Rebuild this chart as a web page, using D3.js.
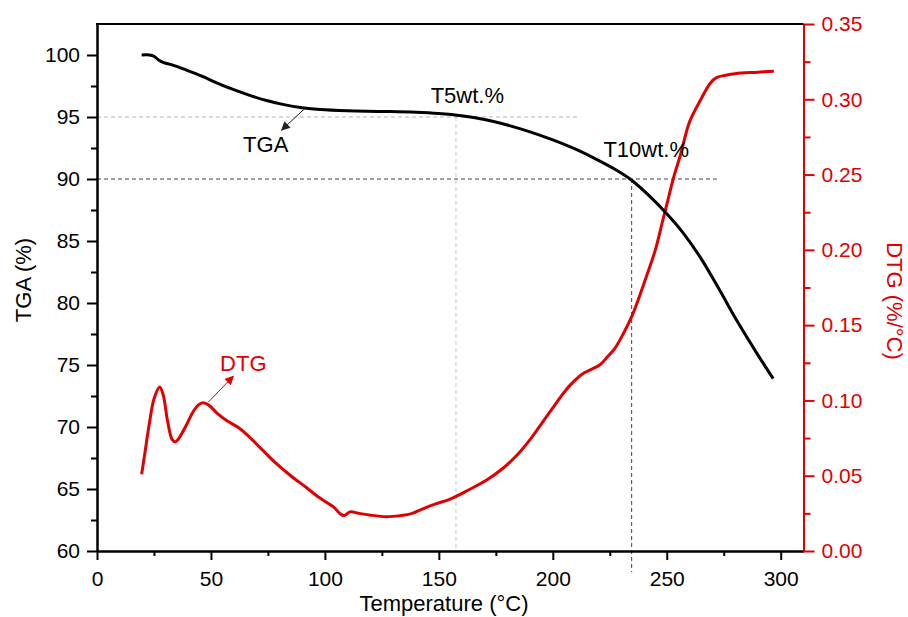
<!DOCTYPE html>
<html>
<head>
<meta charset="utf-8">
<script src="https://cdn.jsdelivr.net/npm/d3@7"></script>
<style>
  html, body { margin: 0; padding: 0; background: #fff; }
  svg { display: block; }
  text { font-family: "Liberation Sans", Arial, sans-serif; }
</style>
</head>
<body>
<svg id="chart" width="908" height="617"></svg>
<script>
// Thermogravimetric curve (TGA, % mass) against temperature (°C)
const tgaTemp  = [19.6, 23, 25, 27, 29, 33, 39, 46, 52, 60, 67, 74, 82, 90, 98, 110, 124, 140, 150, 160, 170, 180, 190, 200, 210, 220, 228, 234.6, 242, 250, 257, 265, 273, 281, 289, 296.7];
const tgaValue = [100, 100, 99.9, 99.6, 99.4, 99.2, 98.8, 98.3, 97.8, 97.2, 96.75, 96.35, 96.0, 95.75, 95.6, 95.5, 95.45, 95.38, 95.28, 95.1, 94.8, 94.35, 93.8, 93.15, 92.4, 91.5, 90.7, 89.9, 88.7, 87.2, 85.7, 83.6, 81.1, 78.5, 76.1, 73.9];

// Derivative curve (DTG, %/°C) against temperature (°C)
const dtgTemp  = [19.6, 21, 23, 25, 27.5, 29, 31, 33, 34.5, 36, 39, 42, 44.5, 46.5, 49, 53, 57, 62, 66, 72, 78, 85, 92, 97, 101, 104, 106.5, 108.5, 111, 115, 120, 127, 133, 138, 143, 148, 155, 163, 171, 178, 184, 190, 195, 200, 204, 207.5, 211, 214, 218, 221, 224, 227, 231, 234.6, 238, 241, 245, 248, 250, 253, 256, 260, 265, 269, 272, 276, 280, 290, 297];
const dtgValue = [0.051, 0.065, 0.085, 0.101, 0.109, 0.104, 0.086, 0.074, 0.0725, 0.075, 0.083, 0.092, 0.097, 0.0985, 0.097, 0.091, 0.0865, 0.082, 0.077, 0.068, 0.059, 0.050, 0.042, 0.036, 0.032, 0.029, 0.025, 0.0235, 0.026, 0.025, 0.0238, 0.0228, 0.0235, 0.0248, 0.028, 0.031, 0.0345, 0.0405, 0.0471, 0.0548, 0.0632, 0.074, 0.0845, 0.095, 0.1035, 0.110, 0.1152, 0.1185, 0.1215, 0.124, 0.129, 0.134, 0.1445, 0.1556, 0.169, 0.182, 0.200, 0.218, 0.230, 0.248, 0.263, 0.285, 0.300, 0.3105, 0.3145, 0.316, 0.317, 0.318, 0.3187];

// Axis ticks
const xTicks      = [0, 50, 100, 150, 200, 250, 300];
const xMinorTicks = [25, 75, 125, 175, 225, 275];
const tgaTicks      = [60, 65, 70, 75, 80, 85, 90, 95, 100];
const tgaMinorTicks = [62.5, 67.5, 72.5, 77.5, 82.5, 87.5, 92.5, 97.5];
const dtgTicks      = [0, 0.05, 0.10, 0.15, 0.20, 0.25, 0.30, 0.35];
const dtgMinorTicks = [0.025, 0.075, 0.125, 0.175, 0.225, 0.275, 0.325];

// Weight-loss markers: temperature at 5 wt.% and 10 wt.% loss
const lossLevels = [95, 90];
const lossTemps  = [157.5, 234.6];
const lossLineEnds = [212, 272];

const RED = "#e10000";
const svg = d3.select("#chart");
const plotLeft = 97, plotRight = 803.5, plotTop = 24, plotBottom = 551;

const x  = d3.scaleLinear().domain([0, 310]).range([plotLeft, plotRight]);
const yL = d3.scaleLinear().domain([60, 102.5]).range([plotBottom, plotTop]);
const yR = d3.scaleLinear().domain([0, 0.35]).range([plotBottom, plotTop]);

const defs = svg.append("defs");
function arrowMarker(id, color) {
  defs.append("marker")
    .attr("id", id)
    .attr("viewBox", "0 0 10 10")
    .attr("refX", 9).attr("refY", 5)
    .attr("markerWidth", 11).attr("markerHeight", 9)
    .attr("markerUnits", "userSpaceOnUse")
    .attr("orient", "auto")
    .append("path")
    .attr("d", "M0,0 L10,5 L0,10 Z")
    .attr("fill", color);
}
arrowMarker("arrBlack", "#222");
arrowMarker("arrRed", RED);

// Reference lines for T5wt.% (light) and T10wt.% (dark)
const g = svg.append("g");
g.append("line")
  .attr("x1", x(0)).attr("x2", x(lossLineEnds[0]))
  .attr("y1", yL(lossLevels[0])).attr("y2", yL(lossLevels[0]))
  .attr("stroke", "#b5b5b5").attr("stroke-width", 1).attr("stroke-dasharray", "4,3");
g.append("line")
  .attr("x1", x(lossTemps[0])).attr("x2", x(lossTemps[0]))
  .attr("y1", yL(lossLevels[0])).attr("y2", yL(60))
  .attr("stroke", "#c4c4c4").attr("stroke-width", 1).attr("stroke-dasharray", "4,3");
g.append("line")
  .attr("x1", x(0)).attr("x2", x(lossLineEnds[1]))
  .attr("y1", yL(lossLevels[1])).attr("y2", yL(lossLevels[1]))
  .attr("stroke", "#444").attr("stroke-width", 1).attr("stroke-dasharray", "4,3");
g.append("line")
  .attr("x1", x(lossTemps[1])).attr("x2", x(lossTemps[1]))
  .attr("y1", yL(lossLevels[1])).attr("y2", yL(58.3))
  .attr("stroke", "#444").attr("stroke-width", 1).attr("stroke-dasharray", "4,3");

// Curves
const tgaData = tgaTemp.map((t, i) => [t, tgaValue[i]]);
const dtgData = dtgTemp.map((t, i) => [t, dtgValue[i]]);
const smooth = d3.curveCatmullRom.alpha(0.5);

svg.append("path")
  .datum(dtgData)
  .attr("fill", "none").attr("stroke", RED).attr("stroke-width", 3)
  .attr("stroke-linejoin", "round")
  .attr("d", d3.line().x(d => x(d[0])).y(d => yR(d[1])).curve(smooth));

svg.append("path")
  .datum(tgaData)
  .attr("fill", "none").attr("stroke", "#000").attr("stroke-width", 3)
  .attr("stroke-linejoin", "round")
  .attr("d", d3.line().x(d => x(d[0])).y(d => yL(d[1])).curve(smooth));

// Axes
const fontSize = "22px";
const tickFont = "21px";
function styleAxis(sel, color) {
  sel.selectAll("path, line").attr("stroke", color).attr("stroke-width", 2);
  sel.selectAll("text").attr("fill", color).style("font-size", tickFont)
    .style("font-family", '"Liberation Sans", Arial, sans-serif');
}

const xAxis = svg.append("g").attr("transform", `translate(0,${plotBottom})`)
  .call(d3.axisBottom(x).tickValues(xTicks).tickSize(9).tickSizeOuter(0).tickPadding(11).tickFormat(d3.format("d")));
styleAxis(xAxis, "#000");
const xMinor = svg.append("g").attr("transform", `translate(0,${plotBottom})`)
  .call(d3.axisBottom(x).tickValues(xMinorTicks).tickSize(5).tickSizeOuter(0).tickFormat(""));
styleAxis(xMinor, "#000");

const lAxis = svg.append("g").attr("transform", `translate(${plotLeft},0)`)
  .call(d3.axisLeft(yL).tickValues(tgaTicks).tickSize(10).tickSizeOuter(0).tickPadding(7).tickFormat(d3.format("d")));
styleAxis(lAxis, "#000");
const lMinor = svg.append("g").attr("transform", `translate(${plotLeft},0)`)
  .call(d3.axisLeft(yL).tickValues(tgaMinorTicks).tickSize(6).tickSizeOuter(0).tickFormat(""));
styleAxis(lMinor, "#000");

const rAxis = svg.append("g").attr("transform", `translate(${plotRight},0)`)
  .call(d3.axisRight(yR).tickValues(dtgTicks).tickSize(11).tickSizeOuter(0).tickPadding(7).tickFormat(d3.format(".2f")));
styleAxis(rAxis, RED);
const rMinor = svg.append("g").attr("transform", `translate(${plotRight},0)`)
  .call(d3.axisRight(yR).tickValues(dtgMinorTicks).tickSize(7).tickSizeOuter(0).tickFormat(""));
styleAxis(rMinor, RED);

// Top frame line
svg.append("line")
  .attr("x1", plotLeft - 1).attr("x2", plotRight).attr("y1", plotTop).attr("y2", plotTop)
  .attr("stroke", "#000").attr("stroke-width", 2);

// Axis titles
svg.append("text")
  .attr("transform", `translate(23,280) rotate(-90)`)
  .attr("text-anchor", "middle").attr("dominant-baseline", "central")
  .style("font-size", fontSize).attr("fill", "#000")
  .text("TGA (%)");

svg.append("text")
  .attr("x", 444).attr("y", 611)
  .attr("text-anchor", "middle")
  .style("font-size", fontSize).attr("fill", "#000")
  .text("Temperature (°C)");

svg.append("text")
  .attr("transform", `translate(894,301) rotate(90)`)
  .attr("text-anchor", "middle").attr("dominant-baseline", "central")
  .style("font-size", fontSize).attr("fill", RED)
  .text("DTG (%/°C)");

// Annotations
svg.append("text").attr("x", x(64.1)).attr("y", yL(92.2))
  .style("font-size", fontSize).attr("fill", "#000").text("TGA");
svg.append("line")
  .attr("x1", x(91.3)).attr("y1", yL(95.7)).attr("x2", x(81.0)).attr("y2", yL(93.95))
  .attr("stroke", "#222").attr("stroke-width", 1).attr("marker-end", "url(#arrBlack)");

svg.append("text").attr("x", x(146.4)).attr("y", yL(96.1))
  .style("font-size", fontSize).attr("fill", "#000").text("T5wt.%");
svg.append("text").attr("x", x(222.2)).attr("y", yL(91.8))
  .style("font-size", fontSize).attr("fill", "#000").text("T10wt.%");

svg.append("text").attr("x", x(54)).attr("y", yR(0.1197))
  .style("font-size", fontSize).attr("fill", RED).text("DTG");
svg.append("line")
  .attr("x1", x(48.8)).attr("y1", yR(0.0988)).attr("x2", x(59.8)).attr("y2", yR(0.1161))
  .attr("stroke", RED).attr("stroke-width", 1).attr("marker-end", "url(#arrRed)");
</script>
</body>
</html>
